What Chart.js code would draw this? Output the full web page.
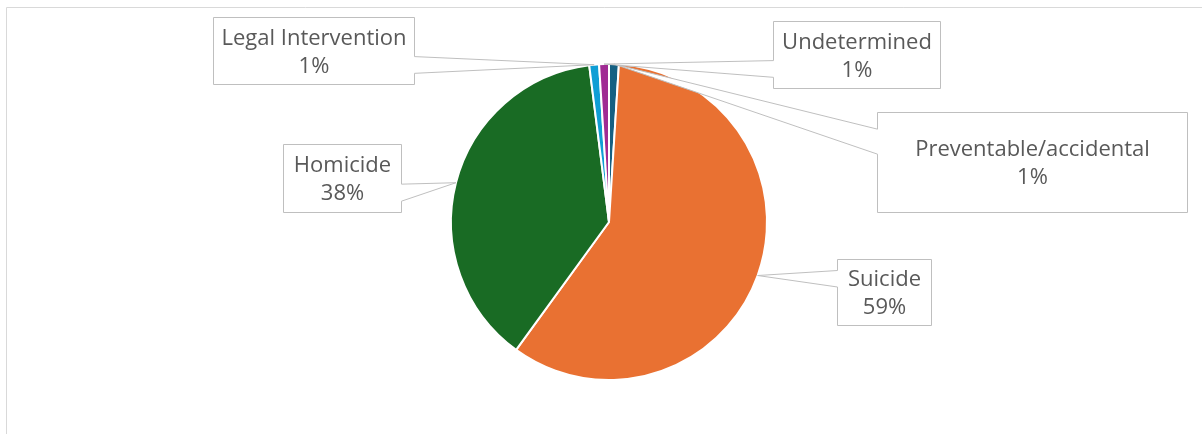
<!DOCTYPE html>
<html>
<head>
<meta charset="utf-8">
<script src="https://cdn.jsdelivr.net/npm/chart.js@4.4.1/dist/chart.umd.min.js"></script>
<style>
  html, body { margin: 0; padding: 0; background: #ffffff; overflow: hidden; }
  #wrap { width: 1202px; height: 434px; }
</style>
</head>
<body>
<div id="wrap"><canvas id="c" width="1202" height="434"></canvas></div>
<script>
// Firearm deaths by intent (share of total, %)
const categories = ['Preventable/accidental', 'Suicide', 'Homicide', 'Legal Intervention', 'Undetermined'];
const shares = [1, 59, 38, 1, 1];
const sliceColors = ['#156082', '#E97132', '#196B24', '#0F9ED5', '#A02B93'];

// Thin frame around the chart area (left and top edges are visible)
const framePlugin = {
  id: 'frame',
  beforeDraw(chart) {
    const ctx = chart.ctx;
    ctx.save();
    ctx.strokeStyle = '#D9D9D9';
    ctx.lineWidth = 1;
    ctx.beginPath();
    ctx.moveTo(6.5, chart.height);
    ctx.lineTo(6.5, 7.5);
    ctx.lineTo(chart.width, 7.5);
    ctx.stroke();
    ctx.restore();
  }
};

// Boxed data labels with a wedge pointing at each slice (rectangular callout)
const calloutPlugin = {
  id: 'callouts',
  afterDatasetsDraw(chart, args, opts) {
    const ctx = chart.ctx;
    const meta = chart.getDatasetMeta(0);
    const values = chart.data.datasets[0].data;
    const total = values.reduce((a, b) => a + b, 0);
    ctx.save();
    meta.data.forEach((arc, i) => {
      const box = opts.boxes[i];
      if (!box) return;
      const p = arc.getProps(['x', 'y', 'startAngle', 'endAngle', 'outerRadius'], true);
      const mid = (p.startAngle + p.endAngle) / 2;
      const tx = p.x + Math.cos(mid) * p.outerRadius;
      const ty = p.y + Math.sin(mid) * p.outerRadius;

      const l = box[0] + 0.5, t = box[1] + 0.5, r = box[2] + 0.5, b = box[3] + 0.5;
      const w = r - l, h = b - t, hc = (l + r) / 2, vc = (t + b) / 2;
      const dx = tx - hc, dy = ty - vc;
      const horizontal = Math.abs(dx) / w > Math.abs(dy) / h;
      const x1 = l + w * (dx > 0 ? 7 : 2) / 12, x2 = l + w * (dx > 0 ? 10 : 5) / 12;
      const y1 = t + h * (dy > 0 ? 7 : 2) / 12, y2 = t + h * (dy > 0 ? 10 : 5) / 12;

      ctx.beginPath();
      ctx.moveTo(l, t);
      if (!horizontal && dy < 0) { ctx.lineTo(x1, t); ctx.lineTo(tx, ty); ctx.lineTo(x2, t); }
      ctx.lineTo(r, t);
      if (horizontal && dx > 0) { ctx.lineTo(r, y1); ctx.lineTo(tx, ty); ctx.lineTo(r, y2); }
      ctx.lineTo(r, b);
      if (!horizontal && dy > 0) { ctx.lineTo(x2, b); ctx.lineTo(tx, ty); ctx.lineTo(x1, b); }
      ctx.lineTo(l, b);
      if (horizontal && dx < 0) { ctx.lineTo(l, y2); ctx.lineTo(tx, ty); ctx.lineTo(l, y1); }
      ctx.closePath();
      ctx.fillStyle = '#FFFFFF';
      ctx.fill();
      ctx.strokeStyle = '#BFBFBF';
      ctx.lineWidth = 1;
      ctx.stroke();

      const pct = Math.round(values[i] / total * 100) + '%';
      ctx.fillStyle = '#595959';
      ctx.font = opts.font;
      ctx.textAlign = 'center';
      ctx.textBaseline = 'alphabetic';
      ctx.fillText(chart.data.labels[i], hc, vc - 6.5);
      ctx.fillText(pct, hc, vc + 21.5);
    });
    ctx.restore();
  }
};

function draw() {
  new Chart(document.getElementById('c'), {
    type: 'pie',
    data: {
      labels: categories,
      datasets: [{
        data: shares,
        backgroundColor: sliceColors,
        borderColor: '#FFFFFF',
        borderWidth: 2
      }]
    },
    options: {
      responsive: false,
      animation: false,
      radius: 158,
      layout: { padding: { left: 16, right: 0, top: 10, bottom: 0 } },
      plugins: {
        legend: { display: false },
        tooltip: { enabled: false },
        callouts: {
          font: '22px "Open Sans"',
          boxes: [
            [877, 112, 1187, 212],
            [837, 259, 931, 325],
            [283, 144, 401, 212],
            [213, 17, 414, 84],
            [773, 21, 940, 88]
          ]
        }
      }
    },
    plugins: [framePlugin, calloutPlugin]
  });
}

if (document.fonts && document.fonts.load) {
  document.fonts.load('22px "Open Sans"').then(draw, draw);
} else {
  draw();
}
</script>
</body>
</html>
